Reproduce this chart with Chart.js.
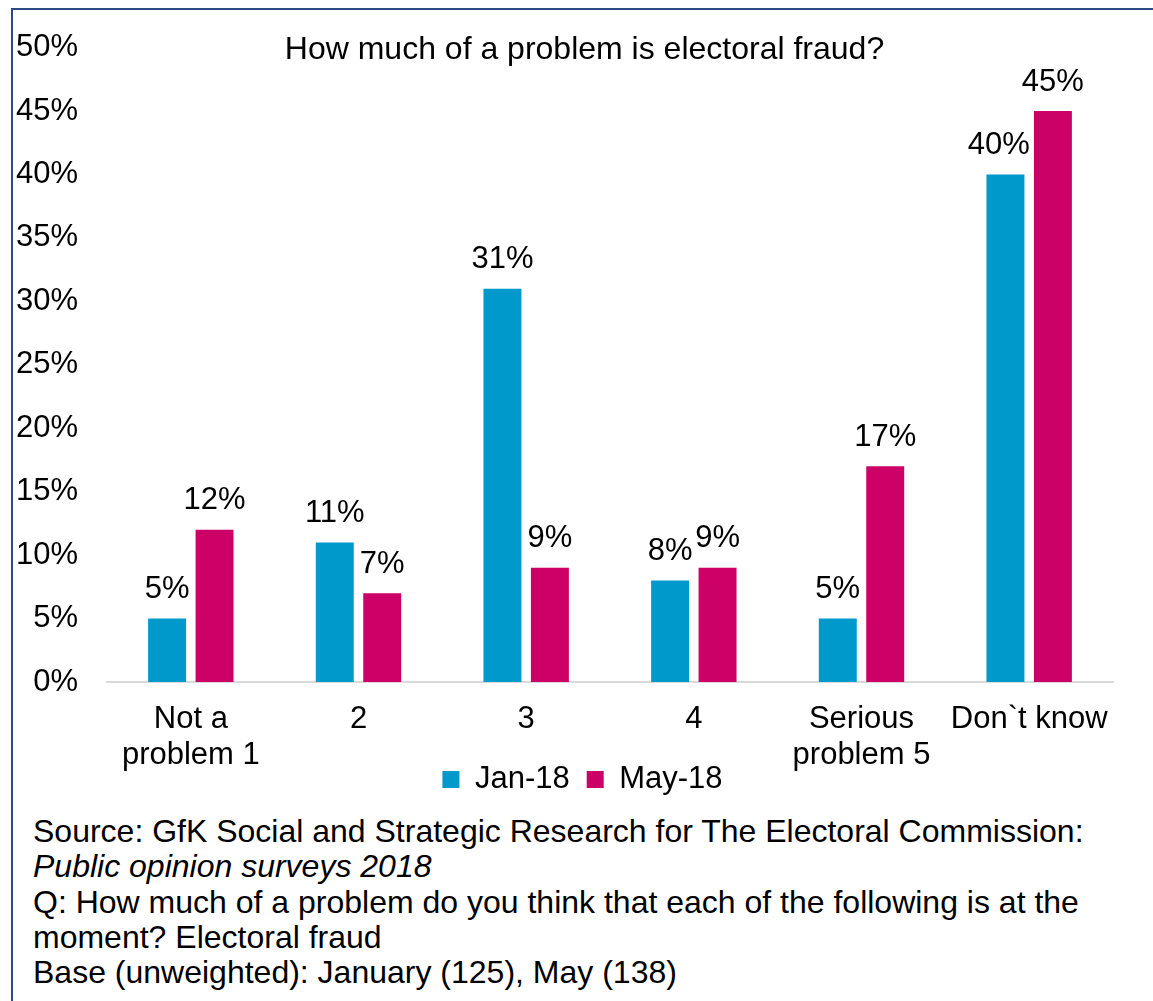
<!DOCTYPE html>
<html>
<head>
<meta charset="utf-8">
<script src="https://cdn.jsdelivr.net/npm/chart.js@4"></script>
<style>
    body { margin: 0; background: #fff; }
    .frame {
        position: absolute; left: 11px; top: 8px; right: 0; bottom: 0;
        border-left: 2px solid #2d4a86; border-top: 2px solid #2d4a86;
    }
    #chart { position: absolute; left: 0; top: 0; }
    .source {
        position: absolute; left: 33px; top: 814px;
        font-family: 'Liberation Sans', Arial, sans-serif;
        font-size: 32px; line-height: 35.3px; color: #000; white-space: nowrap;
    }
</style>
</head>
<body>
<div class="frame"></div>
<canvas id="chart" width="1153" height="811"></canvas>
<div class="source">
    Source: GfK Social and Strategic Research for The Electoral Commission:<br>
    <i>Public opinion surveys 2018</i><br>
    Q: How much of a problem do you think that each of the following is at the<br>
    moment? Electoral fraud<br>
    Base (unweighted): January (125), May (138)
</div>
<script>
const categories = [['Not a', 'problem 1'], '2', '3', '4', ['Serious', 'problem 5'], 'Don`t know'];
const jan18 = [5, 11, 31, 8, 5, 40];
const may18 = [12, 7, 9, 9, 17, 45];
const yTicks = [0, 5, 10, 15, 20, 25, 30, 35, 40, 45, 50];

const titleText = 'How much of a problem is electoral fraud?';

Chart.defaults.font.family = "'Liberation Sans', Arial, sans-serif";
Chart.defaults.font.size = 31;
Chart.defaults.color = '#000';

// title sits inside the plot area, like the Excel original
const overlayTitle = {
    id: 'overlayTitle',
    afterDraw(chart) {
        const ctx = chart.ctx;
        ctx.save();
        ctx.font = "32px 'Liberation Sans', Arial, sans-serif";
        ctx.fillStyle = '#000';
        ctx.textAlign = 'center';
        ctx.textBaseline = 'middle';
        ctx.fillText(titleText, chart.width / 2 + 8, chart.chartArea.top + 3);
        ctx.restore();
    }
};

// value labels above each bar, nudged left if the next bar would cover them
const barLabels = {
    id: 'barLabels',
    afterDatasetsDraw(chart) {
        const ctx = chart.ctx;
        ctx.save();
        ctx.font = "31px 'Liberation Sans', Arial, sans-serif";
        ctx.fillStyle = '#000';
        ctx.textAlign = 'center';
        ctx.textBaseline = 'middle';
        chart.data.datasets.forEach((ds, i) => {
            const next = chart.getDatasetMeta(i + 1);
            chart.getDatasetMeta(i).data.forEach((bar, j) => {
                const text = ds.data[j] + '%';
                const w = ctx.measureText(text).width;
                const y = bar.y - 29;
                let x = bar.x;
                const nb = next && next.data[j];
                if (nb && nb.y < y + 16) {
                    const limit = nb.x - nb.width / 2 - 4;
                    if (x + w / 2 > limit) x = limit - w / 2;
                }
                ctx.fillText(text, x, y);
            });
        });
        ctx.restore();
    }
};

// shrink an axis box but keep its labels unclipped
function squeeze(axis, prop, size) {
    axis[prop] = size;
    axis._computeLabelArea = () => undefined;
}

new Chart(document.getElementById('chart'), {
    type: 'bar',
    data: {
        labels: categories,
        datasets: [{
            label: 'Jan-18',
            data: jan18,
            backgroundColor: '#0099cc',
            barPercentage: 0.8,
            categoryPercentage: 0.566
        }, {
            label: 'May-18',
            data: may18,
            backgroundColor: '#cc0066',
            barPercentage: 0.8,
            categoryPercentage: 0.566
        }]
    },
    options: {
        responsive: false,
        animation: false,
        devicePixelRatio: 1,
        layout: {
            padding: { left: 52, right: 40, top: 44, bottom: 6 }
        },
        plugins: {
            legend: {
                position: 'bottom',
                labels: {
                    boxWidth: 17,
                    boxHeight: 17,
                    padding: 17,
                    font: { size: 31 }
                }
            },
            tooltip: { enabled: false }
        },
        scales: {
            x: {
                grid: { display: false, drawTicks: false },
                border: { display: true, color: '#d9d9d9', width: 2 },
                ticks: {
                    padding: 20,
                    maxRotation: 0,
                    font: { size: 31, lineHeight: 1.15 }
                },
                // the legend tucks in beside the two-line labels
                afterFit: axis => squeeze(axis, 'height', 65)
            },
            y: {
                min: 0,
                max: 50,
                afterBuildTicks: axis => {
                    axis.ticks = yTicks.map(v => ({ value: v }));
                },
                grid: { display: false, drawTicks: false },
                border: { display: false },
                ticks: {
                    padding: 29,
                    callback: v => v + '%'
                },
                afterFit: axis => squeeze(axis, 'width', 55)
            }
        }
    },
    plugins: [overlayTitle, barLabels]
});
</script>
</body>
</html>
